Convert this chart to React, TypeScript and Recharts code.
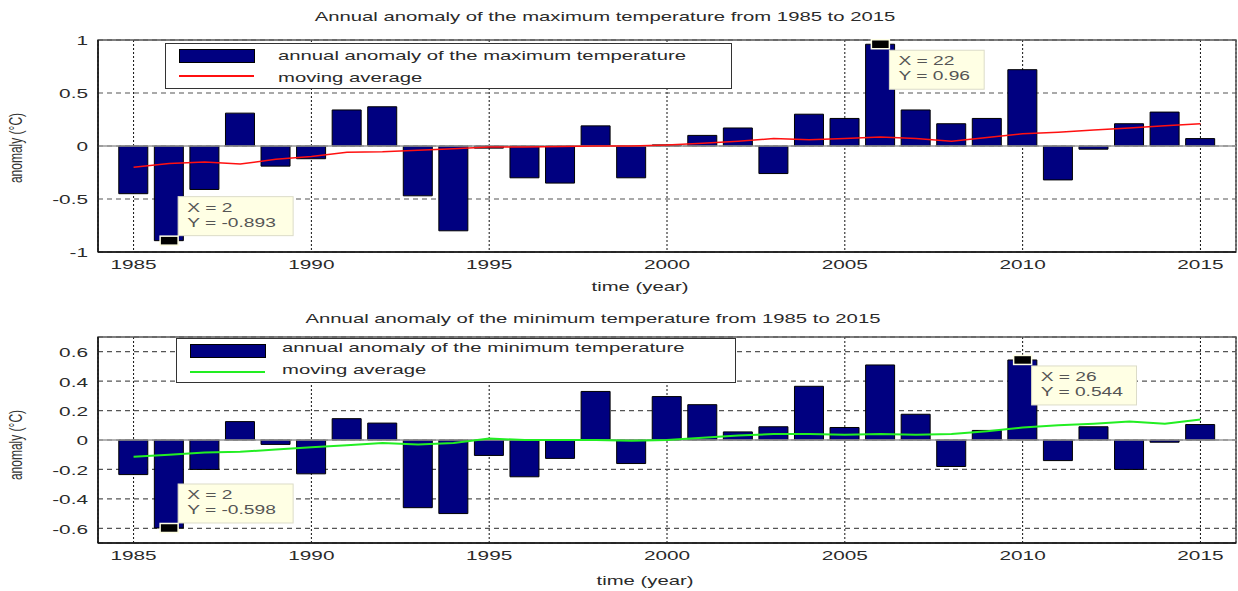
import React from "react";
import {
  ComposedChart,
  Bar,
  Line,
  XAxis,
  YAxis,
  CartesianGrid,
  ReferenceLine,
  ReferenceArea,
  ReferenceDot,
  Legend,
} from "recharts";

// ---------- data ----------
const years = [
  1985, 1986, 1987, 1988, 1989, 1990, 1991, 1992, 1993, 1994, 1995, 1996, 1997, 1998, 1999, 2000,
  2001, 2002, 2003, 2004, 2005, 2006, 2007, 2008, 2009, 2010, 2011, 2012, 2013, 2014, 2015,
];
const maxAnomaly = [
  -0.45, -0.893, -0.41, 0.31, -0.19, -0.12, 0.34, 0.37, -0.47, -0.8, -0.02, -0.3, -0.35, 0.19, -0.3,
  0.01, 0.1, 0.17, -0.26, 0.3, 0.26, 0.96, 0.34, 0.21, 0.26, 0.72, -0.32, -0.03, 0.21, 0.32, 0.07,
];
const maxMovingAvg = [
  -0.2, -0.165, -0.15, -0.17, -0.125, -0.1, -0.06, -0.055, -0.04, -0.025, -0.01, -0.01, -0.005, 0.0,
  0.0, 0.01, 0.025, 0.045, 0.07, 0.06, 0.07, 0.085, 0.07, 0.045, 0.08, 0.115, 0.13, 0.15, 0.17,
  0.19, 0.21,
];
const minAnomaly = [
  -0.235, -0.598, -0.2, 0.125, -0.03, -0.23, 0.145, 0.115, -0.46, -0.5, -0.105, -0.25, -0.125, 0.33,
  -0.16, 0.295, 0.24, 0.055, 0.09, 0.365, 0.085, 0.51, 0.175, -0.18, 0.065, 0.544, -0.14, 0.09,
  -0.2, -0.015, 0.105,
];
const minMovingAvg = [
  -0.113, -0.1, -0.085, -0.08, -0.065, -0.05, -0.035, -0.02, -0.03, -0.02, 0.01, 0.0, 0.0, 0.0,
  -0.005, 0.0, 0.015, 0.03, 0.04, 0.04, 0.035, 0.04, 0.035, 0.04, 0.06, 0.085, 0.1, 0.11, 0.125,
  0.11, 0.14,
];
const xTicks = [1985, 1990, 1995, 2000, 2005, 2010, 2015];
const maxYTicks = [-1, -0.5, 0, 0.5, 1];
const minYTicks = [-0.6, -0.4, -0.2, 0, 0.2, 0.4, 0.6];
const maxTips = [
  { year: 1986, index: 2, value: -0.893 },
  { year: 2006, index: 22, value: 0.96 },
];
const minTips = [
  { year: 1986, index: 2, value: -0.598 },
  { year: 2010, index: 26, value: 0.544 },
];
const maxTitle = "Annual anomaly of the maximum temperature from 1985 to 2015";
const minTitle = "Annual anomaly of the minimum temperature from 1985 to 2015";
const maxBarName = "annual anomaly of the maximum temperature";
const minBarName = "annual anomaly of the minimum temperature";
const avgName = "moving average";
const xLabel = "time (year)";
const yLabel = "anomaly (°C)";

const maxData = years.map((y, i) => ({ year: y, anomaly: maxAnomaly[i], avg: maxMovingAvg[i] }));
const minData = years.map((y, i) => ({ year: y, anomaly: minAnomaly[i], avg: minMovingAvg[i] }));

// ---------- styling ----------
const FONT = "'Liberation Sans', Arial, Helvetica, sans-serif";
const SX = 1.6; // horizontal stretch of the original figure's text
const SXT = 1.56; // stretch for titles / legend text
const NAVY = "#000080";
const TEXT = "#2a2a2a";

const XTick = (props: any) => {
  const { x, y, payload } = props;
  return (
    <text
      x={0}
      y={0}
      transform={`translate(${x},${y + 13}) scale(${SX},1)`}
      textAnchor="middle"
      dominantBaseline="central"
      fontSize={13}
      fontFamily={FONT}
      fill={TEXT}
    >
      {payload.value}
    </text>
  );
};

const YTick = (props: any) => {
  const { x, y, payload } = props;
  return (
    <text
      x={0}
      y={0}
      transform={`translate(${x - 10},${y + 1}) scale(${SX},1)`}
      textAnchor="end"
      dominantBaseline="central"
      fontSize={13}
      fontFamily={FONT}
      fill={TEXT}
    >
      {String(payload.value)}
    </text>
  );
};

const TipShape = (props: any) => {
  const { cx, cy, tip } = props;
  const lineX = `X = ${tip.index}`;
  const lineY = `Y = ${tip.value}`;
  const w = 14 + Math.max(lineX.length, lineY.length) * 10.1;
  const h = 39;
  const bx = cx + 9;
  const by = tip.value < 0 ? cy - 44 : cy + 6;
  const txt = (s: string, ty: number) => (
    <text
      x={0}
      y={0}
      transform={`translate(${bx + 9},${ty}) scale(${SX},1)`}
      dominantBaseline="central"
      fontSize={12}
      fontFamily={FONT}
      fill="#555"
    >
      {s}
    </text>
  );
  return (
    <g>
      <rect x={bx} y={by} width={w} height={h} fill="#ffffe4" stroke="#dcdcc8" strokeWidth={1} />
      {txt(lineX, by + 11)}
      {txt(lineY, by + 26)}
      <rect x={cx - 9} y={cy - 4.5} width={18} height={9} fill="#000" stroke="#ffffe4" strokeWidth={1.5} />
    </g>
  );
};

const makeLegend = (barName: string, color: string, cfg: any) => () => (
  <div
    style={{
      position: "relative",
      width: cfg.w,
      height: cfg.h,
      border: "1px solid #333",
      background: "#fff",
      boxSizing: "border-box",
      fontFamily: FONT,
      fontSize: 13,
      color: TEXT,
    }}
  >
    <div
      style={{
        position: "absolute",
        left: 13,
        top: cfg.sw,
        width: 76,
        height: 14,
        background: NAVY,
        border: "1px solid #000",
        boxSizing: "border-box",
      }}
    />
    <div style={{ position: "absolute", left: 13, top: cfg.ln, width: 75, height: 2, background: color }} />
    <div
      style={{
        position: "absolute",
        left: cfg.tx,
        top: cfg.t1 - 8,
        whiteSpace: "nowrap",
        transform: `scaleX(${SXT})`,
        transformOrigin: "left center",
        lineHeight: "16px",
      }}
    >
      {barName}
    </div>
    <div
      style={{
        position: "absolute",
        left: cfg.tx,
        top: cfg.t2 - 8,
        whiteSpace: "nowrap",
        transform: `scaleX(${SXT})`,
        transformOrigin: "left center",
        lineHeight: "16px",
      }}
    >
      {avgName}
    </div>
  </div>
);

const textStyle = (left: number, top: number, size = 13): React.CSSProperties => ({
  position: "absolute",
  left,
  top,
  fontFamily: FONT,
  fontSize: size,
  color: TEXT,
  whiteSpace: "nowrap",
  transform: `translate(-50%,-50%) scaleX(${SXT})`,
  lineHeight: "16px",
});

const yLabelStyle = (left: number, top: number): React.CSSProperties => ({
  position: "absolute",
  left,
  top,
  fontFamily: FONT,
  fontSize: 12,
  color: "#333",
  whiteSpace: "nowrap",
  transform: `translate(-50%,-50%) rotate(-90deg) scaleY(${SX})`,
  lineHeight: "14px",
});

type PanelProps = {
  data: any[];
  height: number;
  top: number;
  bottomAxis: number;
  yDomain: [number, number];
  yTicks: number[];
  lineColor: string;
  lineWidth: number;
  barName: string;
  tips: any[];
  legendCfg: any;
};

const Panel = (p: PanelProps) => (
  <ComposedChart
    width={1238}
    height={p.height}
    data={p.data}
    margin={{ top: p.top, right: 2, bottom: 0, left: 0 }}
  >
    <CartesianGrid horizontal={false} vertical strokeDasharray="2 2" stroke="#111" strokeWidth={1} />
    <CartesianGrid horizontal vertical={false} strokeDasharray="5 4" stroke="#555" strokeWidth={1.2} />
    <XAxis
      dataKey="year"
      type="number"
      domain={[1984, 2016]}
      ticks={xTicks}
      allowDataOverflow
      height={p.bottomAxis}
      tickSize={0}
      tickMargin={0}
      tickLine={false}
      axisLine={{ stroke: "#111", strokeWidth: 1.5 }}
      tick={<XTick />}
      interval={0}
    />
    <YAxis
      type="number"
      domain={p.yDomain}
      ticks={p.yTicks}
      allowDataOverflow
      width={98}
      tickSize={0}
      tickMargin={0}
      tickLine={false}
      axisLine={{ stroke: "#111", strokeWidth: 1.5 }}
      tick={<YTick />}
      interval={0}
    />
    <ReferenceLine y={0} stroke="#9a9a9a" strokeWidth={1.5} />
    <Bar
      dataKey="anomaly"
      name={p.barName}
      fill={NAVY}
      stroke="#000"
      strokeWidth={1}
      barSize={29}
      isAnimationActive={false}
    />
    <Line
      dataKey="avg"
      name={avgName}
      type="linear"
      stroke={p.lineColor}
      strokeWidth={p.lineWidth}
      dot={false}
      activeDot={false}
      isAnimationActive={false}
    />
    <ReferenceArea
      x1={1984}
      x2={2016}
      y1={p.yDomain[0]}
      y2={p.yDomain[1]}
      fill="none"
      stroke="#555"
      strokeWidth={1.5}
    />
    {p.tips.map((t, i) => (
      <ReferenceDot
        key={i}
        x={t.year}
        y={t.value}
        r={0}
        ifOverflow="visible"
        shape={(props: any) => <TipShape {...props} tip={t} />}
      />
    ))}
    <Legend
      layout="vertical"
      align="center"
      verticalAlign="middle"
      content={makeLegend(p.barName, p.lineColor, p.legendCfg)}
      wrapperStyle={{ position: "absolute", left: p.legendCfg.left, top: p.legendCfg.top, width: p.legendCfg.w, height: p.legendCfg.h }}
    />
  </ComposedChart>
);

export default function App() {
  return (
    <div
      style={{
        position: "absolute",
        left: 0,
        top: 0,
        width: 1238,
        height: 591,
        background: "#fff",
        overflow: "hidden",
      }}
    >
      <div style={{ position: "absolute", left: 0, top: 0 }}>
        <Panel
          data={maxData}
          height={295}
          top={40}
          bottomAxis={43}
          yDomain={[-1, 1]}
          yTicks={maxYTicks}
          lineColor="#ff1010"
          lineWidth={1.5}
          barName={maxBarName}
          tips={maxTips}
          legendCfg={{ left: 165, top: 43, w: 567, h: 46, sw: 5, ln: 31, tx: 112, t1: 12, t2: 34 }}
        />
      </div>
      <div style={{ position: "absolute", left: 0, top: 295 }}>
        <Panel
          data={minData}
          height={296}
          top={42}
          bottomAxis={48}
          yDomain={[-0.7, 0.7]}
          yTicks={minYTicks}
          lineColor="#22ee22"
          lineWidth={2}
          barName={minBarName}
          tips={minTips}
          legendCfg={{ left: 176, top: 43, w: 560, h: 45, sw: 5, ln: 32, tx: 105, t1: 9, t2: 31 }}
        />
      </div>
      <div style={textStyle(605, 17)}>{maxTitle}</div>
      <div style={textStyle(640, 287)}>{xLabel}</div>
      <div style={yLabelStyle(16, 148)}>{yLabel}</div>
      <div style={textStyle(593, 319)}>{minTitle}</div>
      <div style={textStyle(645, 581)}>{xLabel}</div>
      <div style={yLabelStyle(16, 445)}>{yLabel}</div>
    </div>
  );
}
